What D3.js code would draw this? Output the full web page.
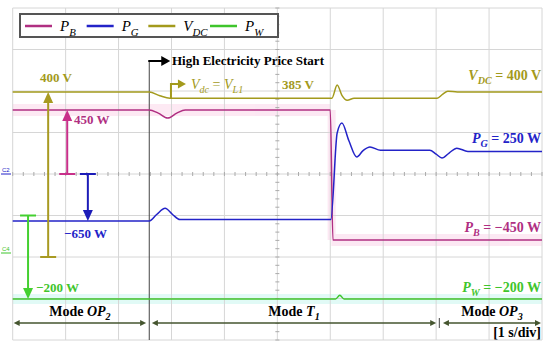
<!DOCTYPE html>
<html>
<head>
<meta charset="utf-8">
<script src="https://cdn.jsdelivr.net/npm/d3@7"></script>
<style>
  html, body { margin: 0; padding: 0; background: #fff; }
</style>
</head>
<body>
<svg width="550" height="351"></svg>
<script>
// time in seconds (1 s/div), values in W or V
var pB = [[0, 450], [2.58, 450], [2.75, 428], [2.93, 394], [3.1, 428], [3.26, 450], [6.0, 450], [6.05, -450], [10, -450]];
var pG = [[0, -650], [2.58, -650], [2.72, -565], [2.88, -484], [3.02, -565], [3.16, -632], [6.01, -632],
          [6.13, 498], [6.22, 628], [6.35, 400], [6.5, 185], [6.62, 268], [6.75, 315], [6.95, 272],
          [7.88, 272], [8.0, 222], [8.11, 172], [8.25, 240], [8.39, 300], [8.6, 258], [10, 258]];
var vDC = [[0, 400], [2.58, 400], [2.78, 391], [2.97, 385], [6.03, 385], [6.13, 417], [6.22, 392],
           [6.32, 380], [6.45, 385], [8.02, 385], [8.12, 394], [8.22, 402], [8.4, 400], [10, 400]];
var pW = [[0, -200], [6.1, -200], [6.18, -184], [6.26, -200], [10, -200]];

var legendNames = [["P", "B"], ["P", "G"], ["V", "DC"], ["P", "W"]];
var modeNames = [["OP", "2"], ["T", "1"], ["OP", "3"]];
var modeStart = [0, 2.61, 8.11];
var modeEnd = [2.54, 8.02, 10];
var tEvent = 2.58;

document.addEventListener('DOMContentLoaded', function() {
    load();
});

function load() {
    var svg = d3.select("svg");
    var serif = "'Liberation Serif', 'Times New Roman', serif";

    var colPB = "#b02f82", colPG = "#2323c8", colV = "#a39a1c", colPW = "#3fc52c";

    var x = d3.scaleLinear().domain([0, 10]).range([12.7, 542]);
    var yDiv = d3.scaleLinear().domain([-4, 4]).range([340, 8]);

    // one vertical scale for every scope channel
    var yPB = d3.scaleLinear().domain([-450, 450]).range([240, 110]);
    var yPG = d3.scaleLinear().domain([-650, 250]).range([221, 152]);
    var yV = d3.scaleLinear().domain([0, 400]).range([257, 92]);
    var yPW = d3.scaleLinear().domain([-200, 0]).range([299, 253]);

    svg.append("rect").attr("width", 550).attr("height", 351).attr("fill", "#fff");

    // highlight bands behind traces
    var bands = svg.append("g").attr("opacity", 0.55);
    bands.append("rect").attr("x", x(0)).attr("y", yPB(450) - 6).attr("width", x(6.0) - x(0)).attr("height", 12).attr("fill", "#fbd7ea");
    bands.append("rect").attr("x", x(6.02)).attr("y", yPB(-450) - 6).attr("width", x(10) - x(6.02)).attr("height", 12).attr("fill", "#fbd7ea");
    bands.append("rect").attr("x", x(5.95)).attr("y", yPB(450)).attr("width", 8).attr("height", yPB(-450) - yPB(450)).attr("fill", "#fbd7ea");
    bands.append("rect").attr("x", x(0)).attr("y", yPW(-200) - 5).attr("width", x(10) - x(0)).attr("height", 10).attr("fill", "#c9f5ee");

    // grid
    var grid = svg.append("g").attr("stroke", "#d6d6d6").attr("stroke-width", 1);
    grid.selectAll("line.v").data(d3.range(0, 11)).enter().append("line")
        .attr("x1", function(d) { return x(d); }).attr("x2", function(d) { return x(d); })
        .attr("y1", yDiv(4)).attr("y2", yDiv(-4));
    grid.selectAll("line.h").data(d3.range(-4, 5)).enter().append("line")
        .attr("x1", x(0)).attr("x2", x(10))
        .attr("y1", function(d) { return yDiv(d); }).attr("y2", function(d) { return yDiv(d); });

    // centre axes minor ticks
    var ticks = svg.append("g").attr("stroke", "#aaa").attr("stroke-width", 1);
    ticks.selectAll("line.tx").data(d3.range(0, 10.01, 0.2)).enter().append("line")
        .attr("x1", function(d) { return x(d); }).attr("x2", function(d) { return x(d); })
        .attr("y1", yDiv(0) - 2).attr("y2", yDiv(0) + 2);
    ticks.selectAll("line.ty").data(d3.range(-4, 4.01, 0.2)).enter().append("line")
        .attr("x1", x(5) - 2).attr("x2", x(5) + 2)
        .attr("y1", function(d) { return yDiv(d); }).attr("y2", function(d) { return yDiv(d); });

    // channel markers
    svg.append("text").attr("x", 2).attr("y", yDiv(0) - 2).attr("font-family", "Arial").attr("font-size", "6px").attr("fill", colPG).text("C2");
    svg.append("line").attr("x1", 1).attr("x2", 11).attr("y1", yDiv(0)).attr("y2", yDiv(0)).attr("stroke", colPG);
    svg.append("text").attr("x", 2).attr("y", yPW(0) - 2).attr("font-family", "Arial").attr("font-size", "6px").attr("fill", colPW).text("C4");
    svg.append("line").attr("x1", 1).attr("x2", 11).attr("y1", yPW(0)).attr("y2", yPW(0)).attr("stroke", colPW);

    // event marker
    svg.append("line").attr("x1", x(tEvent)).attr("x2", x(tEvent)).attr("y1", 61).attr("y2", yDiv(-4))
        .attr("stroke", "#444").attr("stroke-width", 1);

    // traces
    function trace(data, yScale, color) {
        var line = d3.line()
            .x(function(d) { return x(d[0]); })
            .y(function(d) { return yScale(d[1]); })
            .curve(d3.curveMonotoneX);
        svg.append("path").datum(data).attr("d", line)
            .attr("fill", "none").attr("stroke", color).attr("stroke-width", 1.5);
    }
    trace(vDC, yV, colV);
    trace(pW, yPW, colPW);
    trace(pB, yPB, colPB);
    trace(pG, yPG, colPG);

    // helpers for text with italics and subscripts
    function richText(px, py, parts, opt) {
        var size = opt.size || 13;
        var t = svg.append("text").attr("x", px).attr("y", py)
            .attr("fill", opt.color || "#000")
            .attr("font-family", serif)
            .attr("font-size", size + "px")
            .attr("font-weight", opt.bold === false ? "normal" : "bold")
            .attr("text-anchor", opt.anchor || "start");
        var shift = 0;
        parts.forEach(function(p) {
            var s = t.append("tspan").text(p[0]);
            var style = p[1] || "";
            var want = style.indexOf("s") >= 0 ? size * 0.3 : 0;
            if (want != shift) s.attr("dy", want - shift);
            shift = want;
            if (style.indexOf("i") >= 0) s.attr("font-style", "italic");
            if (style.indexOf("s") >= 0) s.attr("font-size", (size * 0.72) + "px");
        });
        return t;
    }

    function head(px, py, dir, color, w, h) {
        w = w || 4; h = h || 9;
        var pts;
        if (dir == "up") pts = [[px, py], [px - w, py + h], [px + w, py + h]];
        if (dir == "down") pts = [[px, py], [px - w, py - h], [px + w, py - h]];
        if (dir == "right") pts = [[px, py], [px - h, py - w], [px - h, py + w]];
        if (dir == "left") pts = [[px, py], [px + h, py - w], [px + h, py + w]];
        svg.append("path").attr("d", "M" + pts.join("L") + "Z").attr("fill", color);
    }

    function teeArrow(t, yFrom, yTo, color) {
        var cx = x(t);
        var dir = yTo < yFrom ? "up" : "down";
        svg.append("line").attr("x1", cx - 8).attr("x2", cx + 8).attr("y1", yFrom).attr("y2", yFrom)
            .attr("stroke", color).attr("stroke-width", 2);
        svg.append("line").attr("x1", cx).attr("x2", cx).attr("y1", yFrom)
            .attr("y2", dir == "up" ? yTo + 8 : yTo - 8)
            .attr("stroke", color).attr("stroke-width", 2);
        head(cx, yTo, dir, color, 5, 11);
    }

    // left annotation arrows
    teeArrow(0.67, yV(0), yV(400), "#a89a22");
    teeArrow(1.03, yDiv(0), yPB(450), "#c8308a");
    teeArrow(1.42, yDiv(0), yPG(-650), "#1c1cb8");
    teeArrow(0.29, yDiv(-1), yPW(-200), "#44d030");

    richText(40, 82, [["400 V"]], { color: colV });
    richText(74, 124, [["450 W"]], { color: colPB });
    richText(64, 238, [["\u2212650 W"]], { color: colPG });
    richText(36, 292, [["\u2212200 W"]], { color: colPW });

    // top event annotation
    svg.append("path").attr("d", "M" + x(tEvent) + "," + 62 + "V61H" + (x(tEvent) + 13))
        .attr("fill", "none").attr("stroke", "#000").attr("stroke-width", 2);
    head(x(tEvent) + 21, 61, "right", "#000", 5, 9);
    richText(172, 65, [["High Electricity Price Start"]], {});

    // Vdc = VL1 annotation
    var xa = x(2.99);
    svg.append("path").attr("d", "M" + xa + "," + yV(385) + "V84H" + (xa + 8))
        .attr("fill", "none").attr("stroke", colV).attr("stroke-width", 2);
    head(xa + 15, 84, "right", colV, 4.5, 8);
    richText(191, 89, [["V", "i"], ["dc", "is"], [" = ", ""], ["V", "i"], ["L1", "is"]], { color: colV, bold: false, size: 14 });
    richText(282, 89, [["385 V"]], { color: colV });

    // right side labels
    richText(541, 80, [["V", "i"], ["DC", "is"], [" = 400 V"]], { color: colV, anchor: "end", size: 14 });
    richText(541, 143, [["P", "i"], ["G", "is"], [" = 250 W"]], { color: colPG, anchor: "end", size: 14 });
    richText(541, 232, [["P", "i"], ["B", "is"], [" = \u2212450 W"]], { color: colPB, anchor: "end", size: 14 });
    richText(541, 292, [["P", "i"], ["W", "is"], [" = \u2212200 W"]], { color: colPW, anchor: "end", size: 14 });

    // modes along the bottom
    var modeCol = "#45552f";
    modeNames.forEach(function(m, i) {
        var a = x(modeStart[i]) + 1, b = x(modeEnd[i]) - 1, yy = 323;
        svg.append("line").attr("x1", a + 4).attr("x2", b - 4).attr("y1", yy).attr("y2", yy)
            .attr("stroke", modeCol).attr("stroke-width", 1.5);
        head(a, yy, "left", modeCol, 3, 6);
        head(b, yy, "right", modeCol, 3, 6);
        richText((a + b) / 2, 316, [["Mode "], [m[0], "i"], [m[1], "is"]], { anchor: "middle", size: 14 });
    });
    svg.append("line").attr("x1", x(8.06)).attr("x2", x(8.06)).attr("y1", 318).attr("y2", 328)
        .attr("stroke", "#444");
    richText(541, 337, [["[1 s/div]"]], { anchor: "end", size: 14 });

    // legend
    var lg = svg.append("g");
    lg.append("rect").attr("x", 20).attr("y", 14).attr("width", 258).attr("height", 23)
        .attr("fill", "#fff").attr("stroke", "#555").attr("stroke-width", 2);
    var legX = d3.scalePoint().domain(d3.range(legendNames.length)).range([25, 210]);
    var legCol = [colPB, colPG, colV, colPW];
    legendNames.forEach(function(n, i) {
        lg.append("line").attr("x1", legX(i)).attr("x2", legX(i) + 27).attr("y1", 26).attr("y2", 26)
            .attr("stroke", legCol[i]).attr("stroke-width", 2.5);
        richText(legX(i) + 35, 31, [[n[0], "i"], [n[1], "is"]], { bold: false, size: 15 });
    });
}
</script>
</body>
</html>
